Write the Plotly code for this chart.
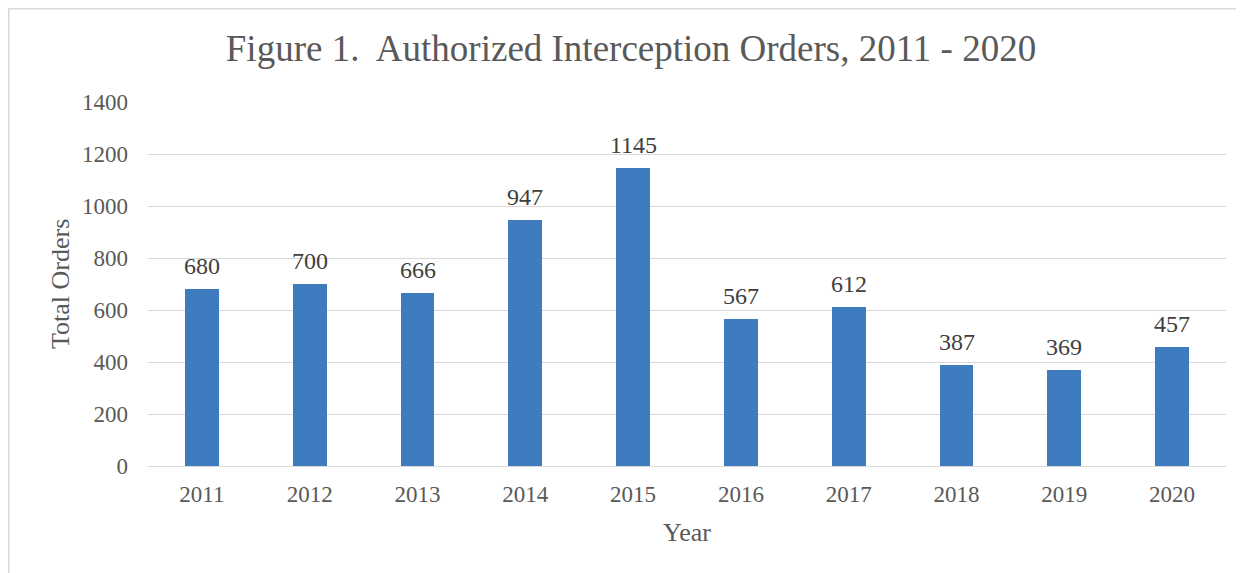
import plotly.graph_objects as go

years = ["2011", "2012", "2013", "2014", "2015", "2016", "2017", "2018", "2019", "2020"]
orders = [680, 700, 666, 947, 1145, 567, 612, 387, 369, 457]
y_ticks = [0, 200, 400, 600, 800, 1000, 1200, 1400]

FONT = "Liberation Serif"
GRAY = "#595959"

fig = go.Figure()
fig.add_trace(go.Bar(
    x=years, y=orders,
    marker=dict(color="#3F7CBF", line=dict(width=0)),
    width=0.315,
))

# data labels above bars (category index positions)
for i, v in enumerate(orders):
    fig.add_annotation(x=i, y=v, text=str(v), showarrow=False,
                       xanchor="center", yanchor="bottom", yshift=8,
                       font=dict(family=FONT, size=24, color="#404040"))

# page has an 8px body margin; figure coordinates below compensate for it
W, H = 1236, 565
L, R, T, B = 140, 18, 94, 107
pw, ph = W - L - R, H - T - B

fig.add_annotation(text="Total Orders", xref="paper", yref="paper",
                   x=(52 - L) / pw, y=0.5, textangle=-90, showarrow=False,
                   xanchor="center", yanchor="middle",
                   font=dict(family=FONT, size=26, color=GRAY))
fig.add_annotation(text="Year", xref="paper", yref="paper",
                   x=0.5, y=-(524 - (H - B)) / ph, showarrow=False,
                   xanchor="center", yanchor="middle",
                   font=dict(family=FONT, size=26, color=GRAY))

fig.update_layout(
    width=W, height=H,
    margin=dict(l=L, r=R, t=T, b=B, autoexpand=False),
    paper_bgcolor="white", plot_bgcolor="white",
    showlegend=False,
    bargap=0,
    title=dict(text="Figure 1.  Authorized Interception Orders, 2011 - 2020",
               font=dict(family=FONT, size=37, color=GRAY),
               x=623 / W, xanchor="center", xref="container",
               y=1 - 40 / H, yanchor="middle", yref="container"),
    font=dict(family=FONT, color=GRAY),
    xaxis=dict(
        type="category", categoryorder="array", categoryarray=years,
        range=[-0.5, len(years) - 0.5],
        tickfont=dict(family=FONT, size=23, color=GRAY),
        showgrid=False, showline=False, ticks="",
        ticklabelstandoff=12, automargin=False,
    ),
    yaxis=dict(
        tickfont=dict(family=FONT, size=23, color=GRAY),
        range=[0, 1400], tickvals=y_ticks,
        showgrid=True, gridcolor="#d9d9d9", gridwidth=1.3,
        zeroline=True, zerolinecolor="#d9d9d9", zerolinewidth=1.3,
        showline=False, ticks="", ticklabelstandoff=19, automargin=False,
    ),
    shapes=[dict(
        type="rect", xref="paper", yref="paper",
        x0=(0.75 - L) / pw, x1=(W + 20 - L) / pw,
        y0=-(B + 20) / ph, y1=1 + (T - 0.75) / ph,
        line=dict(color="#d9d9d9", width=1.5), fillcolor="rgba(0,0,0,0)", layer="below",
    )],
)

fig.write_html("out.html")
